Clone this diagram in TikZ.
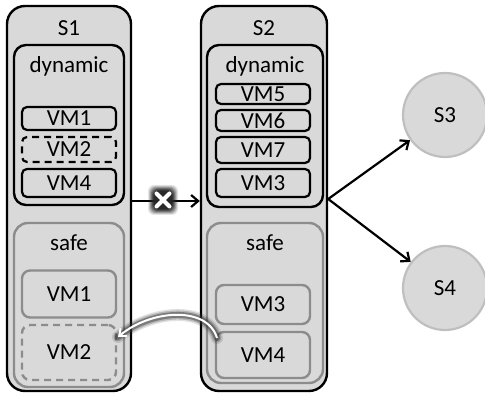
\documentclass[tikz,border=0pt]{standalone}
\usepackage{fontspec}
\setmainfont{Carlito}
\usetikzlibrary{arrows.meta}
\definecolor{boxgray}{HTML}{D9D9D9}
\definecolor{safegray}{HTML}{8C8C8C}
\definecolor{circedge}{HTML}{BFBFBF}
\newcommand{\bigtxt}{\fontsize{23}{24}\selectfont}
\tikzset{
  outer/.style={draw=black, line width=2.4pt, fill=boxgray, rounded corners=18pt, inner sep=0pt},
  dyn/.style={draw=black, line width=2.4pt, fill=boxgray, rounded corners=12pt, inner sep=0pt},
  vm/.style={draw=black, line width=2.2pt, fill=boxgray, rounded corners=5pt, inner sep=0pt, font=\bigtxt},
  vmd/.style={vm, dash pattern=on 7pt off 5pt},
  safe/.style={draw=safegray, line width=2.4pt, fill=boxgray, rounded corners=14pt, inner sep=0pt},
  svm/.style={draw=safegray, line width=2.4pt, fill=boxgray, rounded corners=8pt, inner sep=0pt, font=\bigtxt},
  svmd/.style={svm, dash pattern=on 7pt off 5pt},
  lbl/.style={font=\bigtxt, inner sep=0pt},
  srv/.style={circle, draw=circedge, line width=2.2pt, fill=boxgray, minimum size=84pt, inner sep=0pt, font=\bigtxt},
  arr/.style={line width=2.2pt, -{Straight Barb[length=7pt,width=12pt,line width=2.2pt]}}
}
\begin{document}
\begin{tikzpicture}[x=1pt,y=-1pt]
\useasboundingbox (0,0) rectangle (485,395);
% servers
\node[outer, minimum width=124pt, minimum height=385pt] (s1) at (69,198.5) {};
\node[outer, minimum width=126pt, minimum height=385pt] (s2) at (264,198.5) {};
\node[lbl] (s1t) at (69,28) {S1};
\node[lbl] (s2t) at (264,28) {S2};
% dynamic boxes
\node[dyn, minimum width=110pt, minimum height=160pt] (d1) at (69,125) {};
\node[dyn, minimum width=116pt, minimum height=162pt] (d2) at (265,126) {};
\node[lbl] (d1t) at (69,66) {dynamic};
\node[lbl] (d2t) at (265,66) {dynamic};
% S1 dynamic VMs
\node[vm, minimum width=94pt, minimum height=23pt] (a1) at (69,118.5) {VM1};
\node[vmd, minimum width=94pt, minimum height=25pt] (a2) at (69,149.5) {VM2};
\node[vm, minimum width=94pt, minimum height=28pt] (a4) at (69,183) {VM4};
% S2 dynamic VMs
\node[vm, minimum width=94pt, minimum height=20pt] (b5) at (263,94) {VM5};
\node[vm, minimum width=94pt, minimum height=21pt] (b6) at (263,120.5) {VM6};
\node[vm, minimum width=94pt, minimum height=26pt] (b7) at (263,150) {VM7};
\node[vm, minimum width=94pt, minimum height=28pt] (b3) at (263,183) {VM3};
% safe boxes
\node[safe, minimum width=110pt, minimum height=164pt] (f1) at (69,305) {};
\node[safe, minimum width=116pt, minimum height=160pt] (f2) at (265,303) {};
\node[lbl] (f1t) at (69,243) {safe};
\node[lbl] (f2t) at (265,243) {safe};
\node[svm, minimum width=94pt, minimum height=47pt] (c1) at (69,294) {VM1};
\node[svmd, minimum width=94pt, minimum height=55pt] (c2) at (69,352.5) {VM2};
\node[svm, minimum width=94pt, minimum height=39pt] (e3) at (263,304.5) {VM3};
\node[svm, minimum width=94pt, minimum height=46pt] (e4) at (263,355) {VM4};
% other servers
\node[srv] (s3) at (445,115) {S3};
\node[srv] (s4) at (445,288) {S4};
% arrows
\coordinate (p1) at (s1.east |- 0,201);
\coordinate (p2) at (s2.west |- 0,201);
\coordinate (q) at (s2.east |- 0,199);
\draw[arr] (p1) -- (p2);
\draw[arr] (q) -- (s3);
\draw[arr] (q) -- (s4);
% blocked mark
\coordinate (xm) at (163,200);
\foreach \r/\o in {15/0.12,14/0.18,13/0.25,12/0.35,11/0.45,10/0.6,9/0.8}{
  \fill[black!85, opacity=\o, rounded corners=6pt] ([shift={(-\r,-\r)}]xm) rectangle ([shift={(\r,\r)}]xm);
}
\draw[white, line width=4pt, line cap=round] ([shift={(-6.5,-6.5)}]xm) -- ([shift={(6.5,6.5)}]xm);
\draw[white, line width=4pt, line cap=round] ([shift={(-6.5,6.5)}]xm) -- ([shift={(6.5,-6.5)}]xm);
% migration arrow
\coordinate (m1) at (217,338);
\coordinate (m2) at (118,337);
\foreach \w/\o in {12/0.15,9/0.25,6/0.45}{
  \draw[black!80, opacity=\o, line width=\w pt, line cap=round] (m1) .. controls (207,305) and (150,310) .. (m2);
}
\draw[white, line width=2pt, -{Straight Barb[length=6pt,width=10pt,line width=2pt]}] (m1) .. controls (207,305) and (150,310) .. (m2);
\end{tikzpicture}
\end{document}
